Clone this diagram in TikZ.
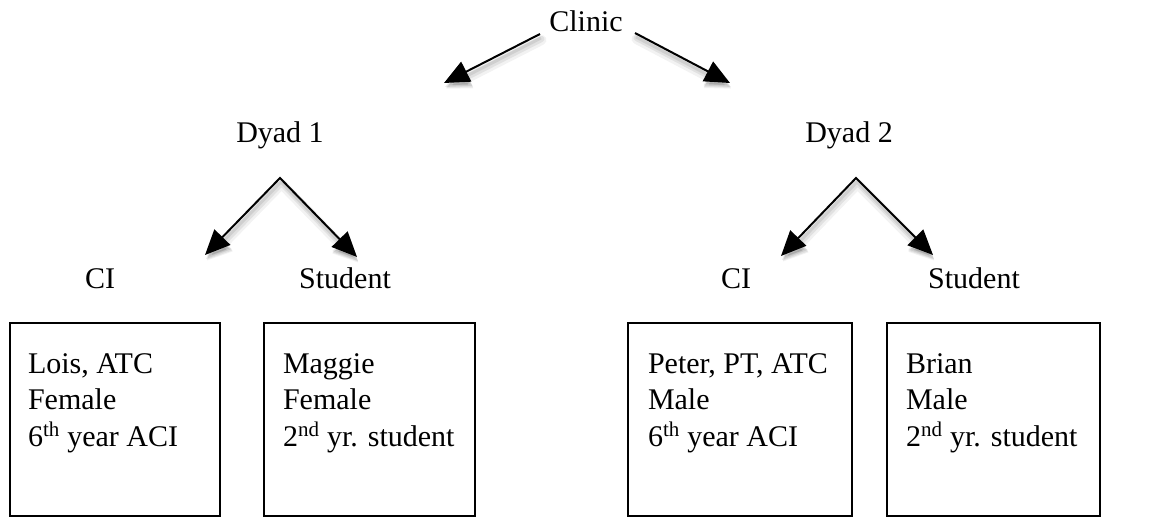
\documentclass[tikz,border=0pt]{standalone}
\usepackage{fontspec}
\setmainfont{Liberation Serif}
\usetikzlibrary{arrows.meta}
\begin{document}
\begin{tikzpicture}[x=1pt,y=-1pt,
  every node/.style={inner sep=0pt, outer sep=0pt},
  lbl/.style={font=\fontsize{30}{36.5}\selectfont, anchor=base},
  info/.style={font=\fontsize{30}{36.5}\selectfont, align=left, anchor=base west},
  card/.style={draw=black, line width=2pt, minimum width=#1, minimum height=193pt},
  tipA/.tip={Triangle[length=25pt,width=22pt]},
  softshade/.style={
    preaction={draw=black, opacity=0.05, line width=10pt, line cap=round, line join=round,
      tipA-tipA, transform canvas={xshift=1.5pt,yshift=-6pt}},
    preaction={draw=black, opacity=0.07, line width=6pt, line cap=round, line join=round,
      tipA-tipA, transform canvas={xshift=1.5pt,yshift=-5pt}},
    preaction={draw=black, opacity=0.08, line width=3pt,
      tipA-tipA, transform canvas={xshift=1pt,yshift=-4pt}}},
  softshadeR/.style={
    preaction={draw=black, opacity=0.05, line width=10pt, line cap=round, line join=round,
      -tipA, transform canvas={xshift=1.5pt,yshift=-6pt}},
    preaction={draw=black, opacity=0.07, line width=6pt, line cap=round, line join=round,
      -tipA, transform canvas={xshift=1.5pt,yshift=-5pt}},
    preaction={draw=black, opacity=0.08, line width=3pt,
      -tipA, transform canvas={xshift=1pt,yshift=-4pt}}},
  link/.style={draw=black, line width=2pt, -tipA, softshadeR},
  fork/.style={draw=black, line width=2pt, tipA-tipA, softshade}
]
\useasboundingbox (0,0) rectangle (1164,517);

% top level
\node[lbl] (clinic) at (586,31) {Clinic};
\node[lbl] (dyad1) at (280,142) {Dyad 1};
\node[lbl] (dyad2) at (849,142) {Dyad 2};

% role labels
\node[lbl] (ci1) at (100,288) {CI};
\node[lbl] (st1) at (345,288) {Student};
\node[lbl] (ci2) at (736,288) {CI};
\node[lbl] (st2) at (974,288) {Student};

% arrow end points
\coordinate (cL0) at (540,34);
\coordinate (cL1) at (444,83);
\coordinate (cR0) at (635,33);
\coordinate (cR1) at (730,83);
\coordinate (apex1) at (280,178);
\coordinate (d1L) at (205,255);
\coordinate (d1R) at (357,257);
\coordinate (apex2) at (856,178);
\coordinate (d2L) at (781,256);
\coordinate (d2R) at (933,255);

\draw[link] (cL0) -- (cL1);
\draw[link] (cR0) -- (cR1);
\draw[fork] (d1L) -- (apex1) -- (d1R);
\draw[fork] (d2L) -- (apex2) -- (d2R);

% person cards
\node[card=210pt] (box1) at (115,419.5) {};
\node[card=211pt] (box2) at (369.5,419.5) {};
\node[card=224pt] (box3) at (740,419.5) {};
\node[card=213pt] (box4) at (993.5,419.5) {};

% card texts, placed by the baseline of their last line
\node[info] (t1) at (28,446) {Lois, ATC\\Female\\6\textsuperscript{th} year ACI};
\node[info] (t2) at (283,446) {Maggie\\Female\\2\textsuperscript{nd} yr. student};
\node[info] (t3) at (648,446) {Peter, PT, ATC\\Male\\6\textsuperscript{th} year ACI};
\node[info] (t4) at (906,446) {Brian\\Male\\2\textsuperscript{nd} yr. student};
\end{tikzpicture}
\end{document}
